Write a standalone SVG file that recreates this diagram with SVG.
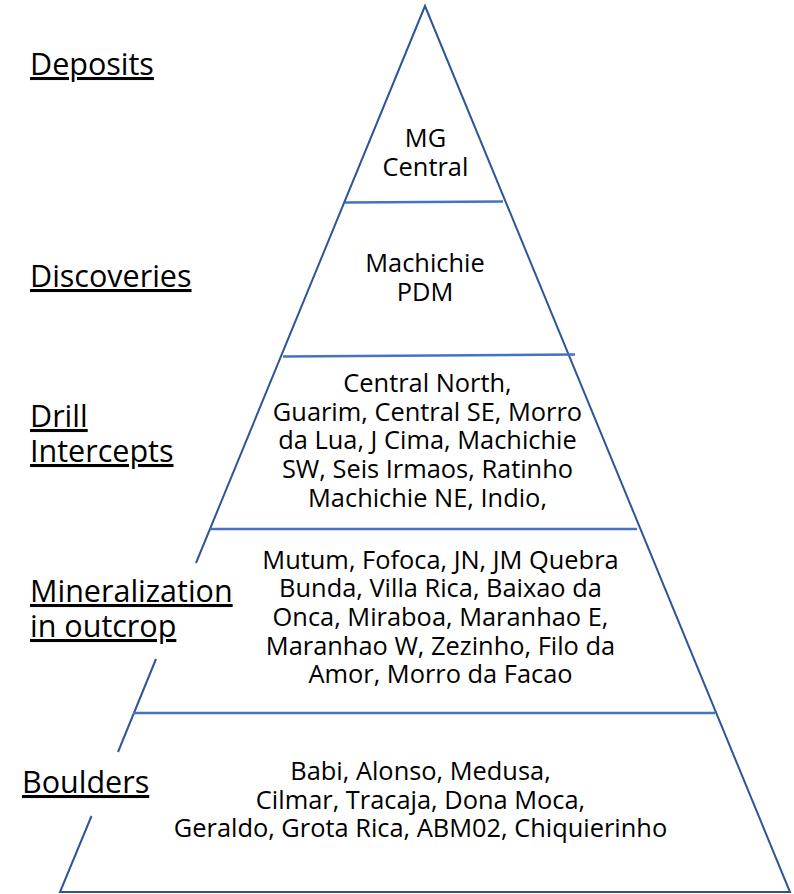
<svg xmlns="http://www.w3.org/2000/svg" width="794" height="894" viewBox="0 0 794 894">
<style>
.tri{fill:none;stroke:#2F5597;stroke-width:2;stroke-linecap:butt}
.div{fill:none;stroke:#4472C4;stroke-width:2.5}
.lbl{font-family:"Open Sans","Noto Sans",sans-serif;font-size:30.5px;fill:#000;text-decoration:underline}
.in{font-family:"Open Sans","Noto Sans",sans-serif;font-size:25.4px;fill:#000;text-anchor:middle}
</style>
<rect width="794" height="894" fill="#fff"/>
<g id="connectors">
<polyline class="tri" points="196,563 425,6 790,892 60,892 91.5,816"/>
<line class="tri" x1="156" y1="659" x2="118" y2="752"/>
<line class="div" x1="345" y1="202.5" x2="503" y2="201.5"/>
<line class="div" x1="283" y1="356.5" x2="575" y2="354.5"/>
<line class="div" x1="210" y1="529" x2="637" y2="529"/>
<line class="div" x1="133" y1="713" x2="715" y2="713"/>
</g>
<g id="label-deposits"><text class="lbl" x="30" y="75">Deposits</text></g>
<g id="label-discoveries"><text class="lbl" x="30" y="287">Discoveries</text></g>
<g id="label-drill"><text class="lbl" x="30" y="427">Drill</text><text class="lbl" x="30" y="462">Intercepts</text></g>
<g id="label-mineralization"><text class="lbl" x="30" y="602">Mineralization</text><text class="lbl" x="30" y="637">in outcrop</text></g>
<g id="label-boulders"><text class="lbl" x="22" y="793">Boulders</text></g>
<g id="tier-deposits"><text class="in" x="425.5" y="147">MG</text><text class="in" x="425.5" y="175.5">Central</text></g>
<g id="tier-discoveries"><text class="in" x="425" y="272">Machichie</text><text class="in" x="425" y="300.5">PDM</text></g>
<g id="tier-drill">
<text class="in" x="427.5" y="392">Central North,</text>
<text class="in" x="427.5" y="420.7">Guarim, Central SE, Morro</text>
<text class="in" x="427.5" y="449.4">da Lua, J Cima, Machichie</text>
<text class="in" x="427.5" y="478.1">SW, Seis Irmaos, Ratinho</text>
<text class="in" x="427.5" y="506.8">Machichie NE, Indio,</text>
</g>
<g id="tier-mineralization">
<text class="in" x="440.5" y="568.5">Mutum, Fofoca, JN, JM Quebra</text>
<text class="in" x="440.5" y="597.2">Bunda, Villa Rica, Baixao da</text>
<text class="in" x="440.5" y="625.9">Onca, Miraboa, Maranhao E,</text>
<text class="in" x="440.5" y="654.6">Maranhao W, Zezinho, Filo da</text>
<text class="in" x="440.5" y="683.3">Amor, Morro da Facao</text>
</g>
<g id="tier-boulders">
<text class="in" x="420.5" y="780">Babi, Alonso, Medusa,</text>
<text class="in" x="420.5" y="808.5">Cilmar, Tracaja, Dona Moca,</text>
<text class="in" x="420.5" y="837">Geraldo, Grota Rica, ABM02, Chiquierinho</text>
</g>
</svg>
